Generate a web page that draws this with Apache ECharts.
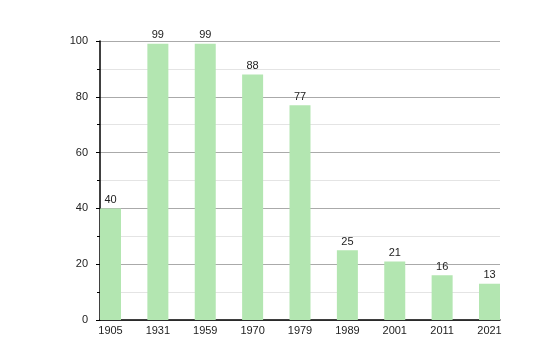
<!DOCTYPE html>
<html><head><meta charset="utf-8">
<script src="https://cdn.jsdelivr.net/npm/echarts@6/dist/echarts.min.js"></script>
<style>html,body{margin:0;padding:0;background:#fff}#c{width:540px;height:360px}</style>
</head><body><div id="c"></div>
<script>
const years = ['1905','1931','1959','1970','1979','1989','2001','2011','2021'];
const values = [40, 99, 99, 88, 77, 25, 21, 16, 13];
const yTicks = [0, 20, 40, 60, 80, 100];

const chart = echarts.init(document.getElementById('c'), null, {renderer: 'canvas'});
const idx = years.map((_, i) => i);
const pad = 0.2216;
chart.setOption({
  animation: false,
  grid: {left: 100, right: 40, top: 41, bottom: 40},
  xAxis: {
    type: 'value', min: -pad, max: years.length - 1 + pad,
    axisLine: {show: true, onZero: false, lineStyle: {color: '#000', width: 1.5}},
    axisTick: {show: false},
    splitLine: {show: false},
    axisLabel: {customValues: idx, formatter: v => years[Math.round(v)] || '', color: '#222', fontSize: 11, fontFamily: 'Liberation Sans, Arial, sans-serif', margin: 5}
  },
  yAxis: {
    type: 'value', min: 0, max: 100, interval: 20,
    axisLine: {show: true, onZero: false, lineStyle: {color: '#000', width: 1.5}},
    axisTick: {show: true, length: 4, lineStyle: {color: '#000'}},
    minorTick: {show: true, splitNumber: 2, length: 3, lineStyle: {color: '#000'}},
    splitLine: {show: true, lineStyle: {color: '#aaa', width: 1}},
    minorSplitLine: {show: true, lineStyle: {color: '#e4e4e4', width: 1}},
    axisLabel: {color: '#222', fontSize: 11, fontFamily: 'Liberation Sans, Arial, sans-serif', margin: 12}
  },
  series: [{
    type: 'bar',
    barWidth: 21,
    data: values.map((v, i) => [i, v]),
    itemStyle: {color: '#b3e6b1'},
    label: {show: true, position: 'top', distance: 3, color: '#222', fontSize: 11, fontFamily: 'Liberation Sans, Arial, sans-serif'}
  }]
});
</script></body></html>
